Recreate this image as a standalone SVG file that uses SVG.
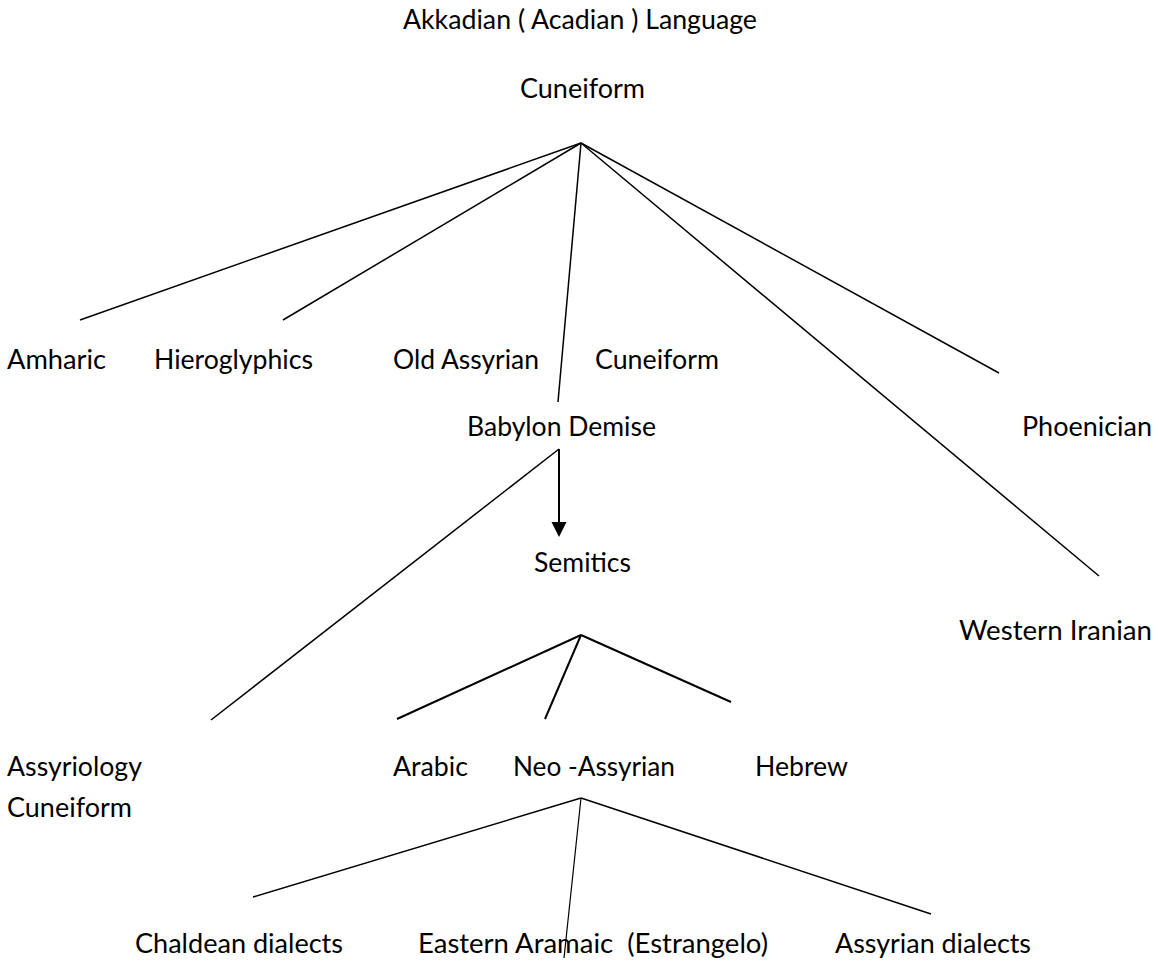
<svg xmlns="http://www.w3.org/2000/svg" width="1159" height="961" viewBox="0 0 1159 961">
<style>
  text { font-family: Lato, "Open Sans", "Liberation Sans", sans-serif; font-size: 26.4px; fill: #000; }
  .c { stroke: #000; stroke-width: 1.5; fill: none; }
  .t { stroke-width: 2; }
  .thin { stroke-width: 1.2; }
</style>
<defs>
  <marker id="arrow" markerWidth="8" markerHeight="8" refX="7.5" refY="4" orient="auto" markerUnits="userSpaceOnUse" viewBox="0 0 8 8">
    <path d="M0,0 L8,4 L0,8 Z" fill="#000"/>
  </marker>
</defs>
<rect width="1159" height="961" fill="#fff"/>
<g id="connectors">
  <line class="c" x1="581" y1="143" x2="80" y2="320"/>
  <line class="c" x1="581" y1="143" x2="283" y2="320"/>
  <line class="c" x1="581" y1="143" x2="558" y2="402"/>
  <line class="c" x1="581" y1="143" x2="999" y2="373"/>
  <line class="c" x1="581" y1="143" x2="1099" y2="576"/>
  <line class="c t" x1="559" y1="449" x2="559" y2="523"/>
  <polygon points="551.5,522 566.5,522 559,537" fill="#000"/>
  <line class="c" x1="559" y1="449" x2="211" y2="720"/>
  <line class="c t" x1="581" y1="635" x2="397" y2="719"/>
  <line class="c t" x1="581" y1="635" x2="545" y2="719"/>
  <line class="c t" x1="581" y1="635" x2="731" y2="702"/>
  <line class="c" x1="581" y1="798" x2="253" y2="897"/>
  <line class="c thin" x1="581" y1="798" x2="564" y2="958"/>
  <line class="c" x1="581" y1="798" x2="931" y2="914"/>
</g>
<g id="akkadian"><text x="403" y="29" textLength="354" lengthAdjust="spacingAndGlyphs">Akkadian ( Acadian ) Language</text></g>
<g id="cuneiform-top"><text x="520" y="98" textLength="125" lengthAdjust="spacingAndGlyphs">Cuneiform</text></g>
<g id="amharic"><text x="7" y="369" textLength="99" lengthAdjust="spacingAndGlyphs">Amharic</text></g>
<g id="hieroglyphics"><text x="154" y="369" textLength="159" lengthAdjust="spacingAndGlyphs">Hieroglyphics</text></g>
<g id="old-assyrian"><text x="393" y="369" textLength="146" lengthAdjust="spacingAndGlyphs">Old Assyrian</text></g>
<g id="cuneiform-2"><text x="595" y="369" textLength="124" lengthAdjust="spacingAndGlyphs">Cuneiform</text></g>
<g id="babylon-demise"><text x="467" y="436" textLength="189" lengthAdjust="spacingAndGlyphs">Babylon Demise</text></g>
<g id="phoenician"><text x="1022" y="436" textLength="130" lengthAdjust="spacingAndGlyphs">Phoenician</text></g>
<g id="semitics"><text x="534" y="572" textLength="97" lengthAdjust="spacingAndGlyphs">Semitics</text></g>
<g id="western-iranian"><text x="959" y="640" textLength="193" lengthAdjust="spacingAndGlyphs">Western Iranian</text></g>
<g id="assyriology"><text x="7" y="776" textLength="135" lengthAdjust="spacingAndGlyphs">Assyriology</text><text x="7" y="817" textLength="125" lengthAdjust="spacingAndGlyphs">Cuneiform</text></g>
<g id="arabic"><text x="393" y="776" textLength="75" lengthAdjust="spacingAndGlyphs">Arabic</text></g>
<g id="neo-assyrian"><text x="513" y="776" textLength="162" lengthAdjust="spacingAndGlyphs">Neo -Assyrian</text></g>
<g id="hebrew"><text x="755" y="776" textLength="93" lengthAdjust="spacingAndGlyphs">Hebrew</text></g>
<g id="chaldean"><text x="135" y="953" textLength="208" lengthAdjust="spacingAndGlyphs">Chaldean dialects</text></g>
<g id="eastern-aramaic"><text x="418" y="953" textLength="350" lengthAdjust="spacingAndGlyphs" xml:space="preserve">Eastern Aramaic  (Estrangelo)</text></g>
<g id="assyrian-dialects"><text x="835" y="953" textLength="196" lengthAdjust="spacingAndGlyphs">Assyrian dialects</text></g>
</svg>
